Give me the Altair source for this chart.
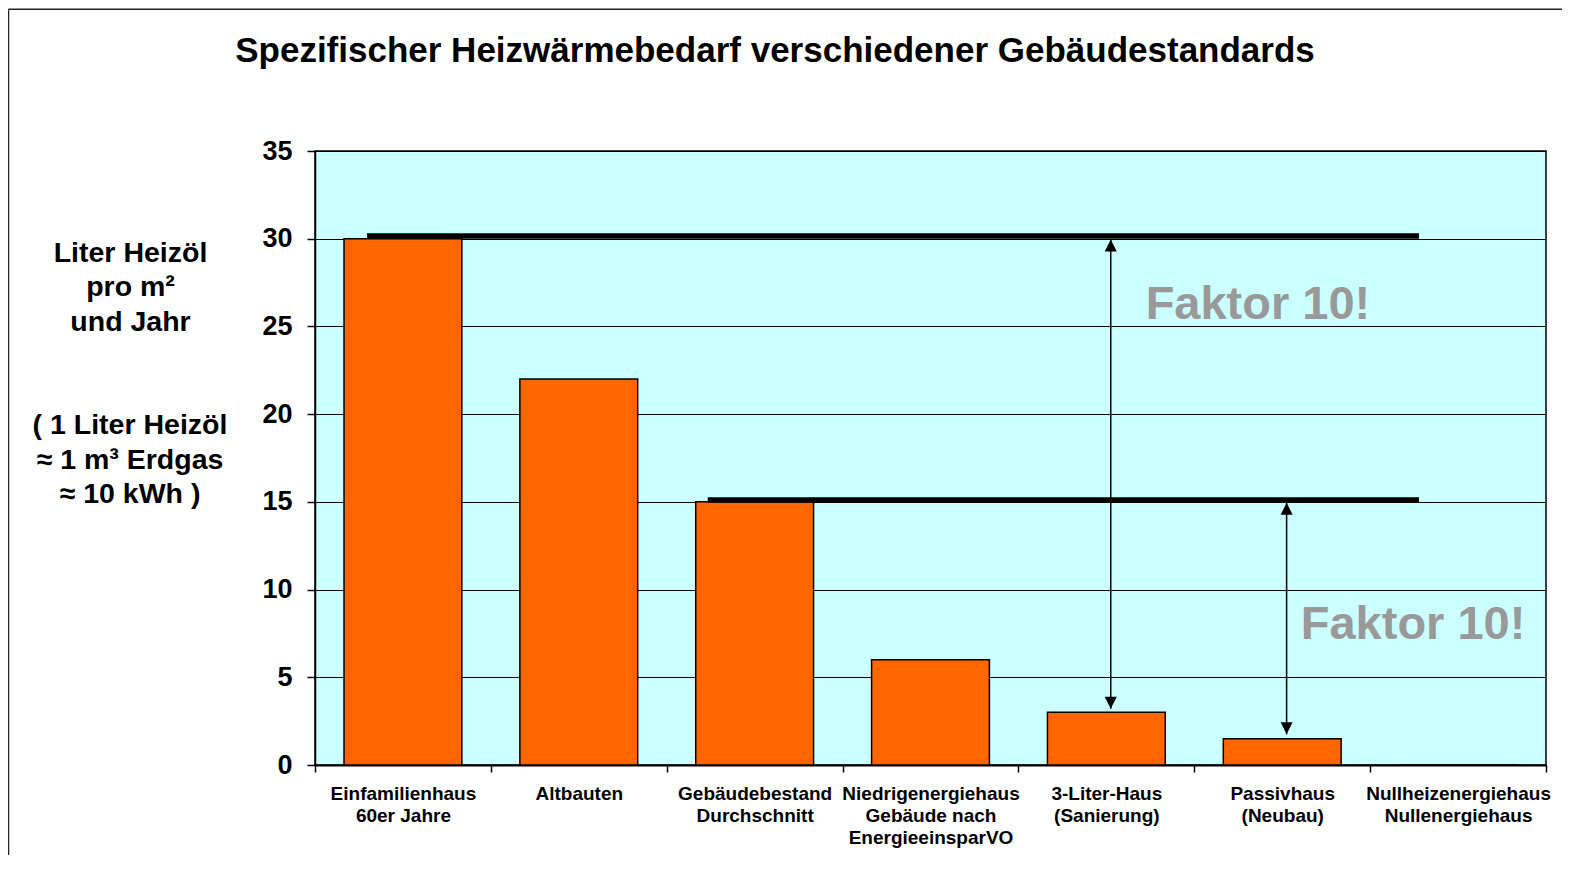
import altair as alt
import pandas as pd

FONT = "Liberation Sans"

categories = [
    "Einfamilienhaus|60er Jahre",
    "Altbauten",
    "Gebäudebestand|Durchschnitt",
    "Niedrigenergiehaus|Gebäude nach|EnergieeinsparVO",
    "3-Liter-Haus|(Sanierung)",
    "Passivhaus|(Neubau)",
    "Nullheizenergiehaus|Nullenergiehaus",
]
values = [30, 22, 15, 6, 3, 1.5, 0]

title_text = "Spezifischer Heizwärmebedarf verschiedener  Gebäudestandards"
y_title = ["Liter Heizöl", "pro m²", "und Jahr"]
y_note = ["( 1 Liter Heizöl", "≈ 1 m³ Erdgas", "≈ 10 kWh )"]

# reference levels (start category, end category, level)
level_start = [categories[0], categories[2]]
level_end = [categories[6], categories[6]]
level_values = [30.15, 15.1]

# arrows between levels and bars
arrow_cats = [categories[4], categories[5]]
arrow_top = [29.95, 14.95]
arrow_bottom = [3.2, 1.75]

# "Faktor 10!" annotations
note_cats = [categories[5], categories[6]]
note_levels = [25.45, 7.2]
note_text = ["Faktor 10!", "Faktor 10!"]

x_scale = alt.Scale(domain=categories, paddingInner=0, paddingOuter=0)
y_scale = alt.Scale(domain=[0, 35], nice=False, zero=True)

bars_df = pd.DataFrame({"cat": categories, "val": values})

x_axis = alt.Axis(
    title=None, labelAngle=0, labelExpr="split(datum.label, '|')",
    labelFont=FONT, labelFontSize=19, labelFontWeight="bold", labelColor="black",
    labelLineHeight=22, labelPadding=12, labelLimit=400,
    tickBand="extent", tickSize=7, tickColor="black", tickWidth=1.5,
    domainColor="black", domainWidth=2, grid=False,
)
y_axis = alt.Axis(
    values=[0, 5, 10, 15, 20, 25, 30, 35],
    labelFont=FONT, labelFontSize=27, labelFontWeight="bold", labelColor="black",
    labelPadding=15, tickSize=8, tickColor="black", tickWidth=1.5,
    domainColor="black", domainWidth=1.5,
    grid=True, gridColor="black", gridWidth=1, gridOpacity=1,
    title=y_title, titleAngle=0, titleX=-185, titleY=110, titleAlign="center",
    titleBaseline="alphabetic", titleFont=FONT, titleFontSize=28.5,
    titleFontWeight="bold", titleColor="black", titleLineHeight=34.7,
)


def X(field, b=None):
    if b is None:
        return alt.X(field, scale=x_scale, axis=x_axis)
    return alt.X(field, scale=x_scale, axis=x_axis, bandPosition=b)


def Y(field):
    return alt.Y(field, scale=y_scale, axis=y_axis)


bars = alt.Chart(bars_df).mark_bar(
    color="#FF6600", stroke="black", strokeWidth=1.5, width={"band": 0.67}
).encode(x=X("cat:N"), y=Y("val:Q"))


def level_line(i, b1, b2):
    df = pd.DataFrame({"cat": [level_start[i]], "end": [level_end[i]],
                       "val": [level_values[i]]})
    return alt.Chart(df).mark_rule(color="black", strokeWidth=5.5).encode(
        x=X("cat:N", b1),
        x2=alt.X2("end:N", bandPosition=b2),
        y=Y("val:Q"),
    )


arrow_df = pd.DataFrame({"cat": arrow_cats, "val": arrow_top, "bottom": arrow_bottom})
shafts = alt.Chart(arrow_df).mark_rule(color="black", strokeWidth=1.5).encode(
    x=X("cat:N", 0.525), y=Y("val:Q"), y2="bottom:Q",
)
head_up = alt.Chart(arrow_df).mark_point(
    shape="M0,0L-0.5,1L0.5,1Z", size=576, filled=True, color="black", opacity=1, strokeWidth=0
).encode(x=X("cat:N", 0.525), y=Y("val:Q"))
head_down = alt.Chart(arrow_df).transform_calculate(val="datum.bottom").mark_point(
    shape="M0,0L-0.5,-1L0.5,-1Z", size=576, filled=True, color="black", opacity=1, strokeWidth=0
).encode(x=X("cat:N", 0.525), y=Y("val:Q"))


def note(i, b):
    df = pd.DataFrame({"cat": [note_cats[i]], "val": [note_levels[i]], "t": [note_text[i]]})
    return alt.Chart(df).mark_text(
        font=FONT, fontSize=47, fontWeight="bold", color="#999999",
        align="center", baseline="alphabetic"
    ).encode(x=X("cat:N", b), y=Y("val:Q"), text="t:N")


one = pd.DataFrame({"a": [0]})
title = alt.Chart(one).mark_text(
    font=FONT, fontSize=35, fontWeight="bold", color="black",
    align="center", baseline="alphabetic"
).encode(x=alt.value(460), y=alt.value(-89), text=alt.value(title_text))

unit_note = alt.Chart(one).mark_text(
    font=FONT, fontSize=28.5, fontWeight="bold", color="black",
    align="center", baseline="alphabetic", lineHeight=34.7
).encode(x=alt.value(-185), y=alt.value(283), text=alt.value(y_note))

frame_top = alt.Chart(one).mark_rule(color="#222222", strokeWidth=1.5).encode(
    x=alt.value(-306.5), x2=alt.value(1300), y=alt.value(-141.7))
frame_left = alt.Chart(one).mark_rule(color="#222222", strokeWidth=1.5).encode(
    x=alt.value(-306.5), y=alt.value(-141.7), y2=alt.value(800))

chart = alt.layer(
    bars, level_line(0, 0.296, 0.278), level_line(1, 0.233, 0.278),
    shafts, head_up, head_down, note(0, 0.362), note(1, 0.244),
    title, unit_note, frame_top, frame_left,
).properties(
    width=1231, height=614,
    autosize=alt.AutoSizeParams(type="none"),
    padding={"left": 307, "top": 143, "right": 16, "bottom": 90},
    background="white",
).configure_view(
    fill="#CCFFFF", stroke="black", strokeWidth=1.5
)

chart.save("out.html", embed_options={"renderer": "svg", "actions": False})
